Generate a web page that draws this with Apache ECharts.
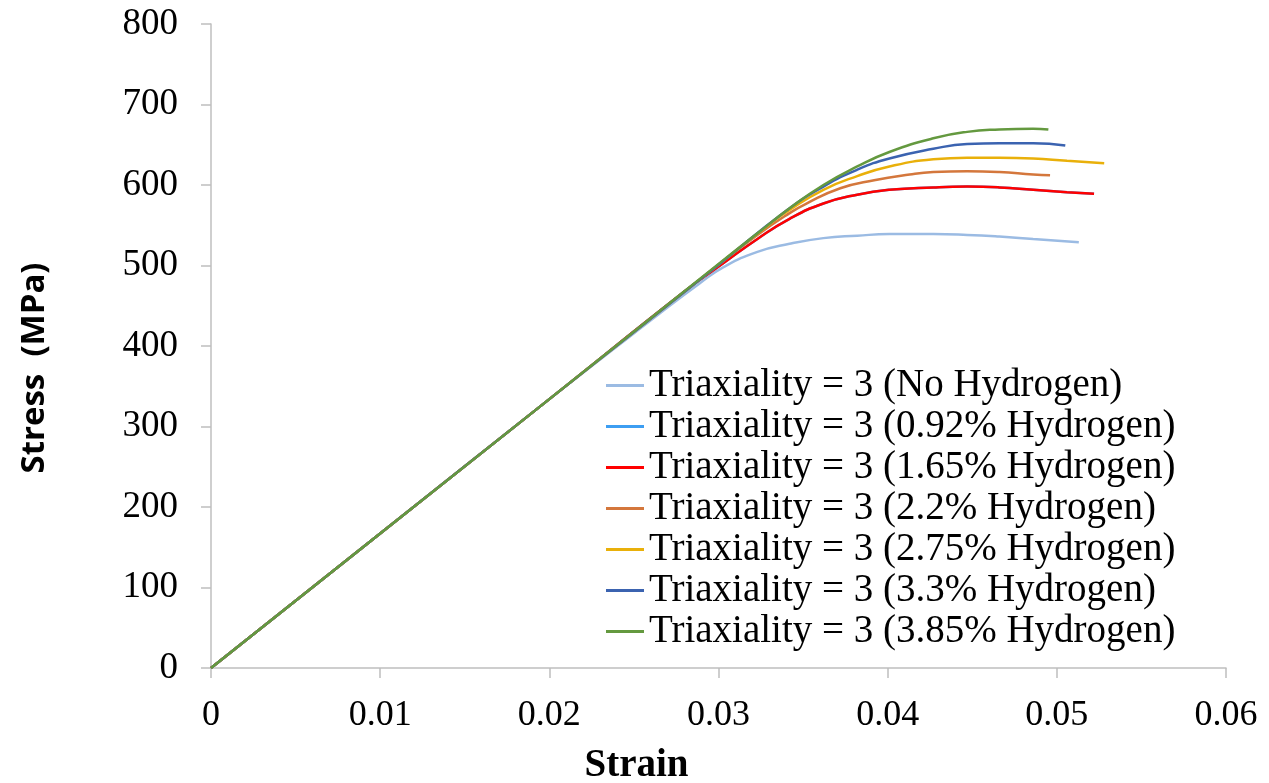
<!DOCTYPE html>
<html>
<head>
<meta charset="utf-8">
<style>
  html, body { margin: 0; padding: 0; background: #fff; }
  #main { width: 1269px; height: 783px; }
</style>
<script src="https://cdn.jsdelivr.net/npm/echarts@6/dist/echarts.min.js"></script>
</head>
<body>
<div id="main"></div>
<script>
// values
var names = [
  'Triaxiality = 3 (No Hydrogen)',
  'Triaxiality = 3 (0.92% Hydrogen)',
  'Triaxiality = 3 (1.65% Hydrogen)',
  'Triaxiality = 3 (2.2% Hydrogen)',
  'Triaxiality = 3 (2.75% Hydrogen)',
  'Triaxiality = 3 (3.3% Hydrogen)',
  'Triaxiality = 3 (3.85% Hydrogen)'
];
var colors = ['#9bbbe3', '#3d9ef2', '#ff0000', '#d4773c', '#e9b00a', '#3b63b0', '#64993f'];

var strainNoH = [0, 0.01, 0.02, 0.0265, 0.0289, 0.0303, 0.0323, 0.0342, 0.0362, 0.0382, 0.0401, 0.0427, 0.0447, 0.0466, 0.0486, 0.0513];
var stressNoH = [0, 167, 334, 440, 478, 498, 517, 527, 534, 537, 539, 539, 538, 536, 533, 529];

var strainH092 = [0, 0.01, 0.02, 0.028, 0.0303, 0.0323, 0.0342, 0.0362, 0.0382, 0.0401, 0.0427, 0.0447, 0.0466, 0.0486, 0.0506, 0.0522];
var stressH092 = [0, 167, 334, 468, 503, 533, 558, 577, 588, 594, 597, 598, 597, 594, 591, 589];

var strainH165 = [0, 0.01, 0.02, 0.028, 0.0303, 0.0323, 0.0342, 0.0362, 0.0382, 0.0401, 0.0427, 0.0447, 0.0466, 0.0486, 0.0506, 0.0522];
var stressH165 = [0, 167, 334, 468, 503, 533, 558, 577, 588, 594, 597, 598, 597, 594, 591, 589];

var strainH22 = [0, 0.01, 0.02, 0.03, 0.0323, 0.0342, 0.0352, 0.0372, 0.0392, 0.0413, 0.0427, 0.0447, 0.0466, 0.0486, 0.0496];
var stressH22 = [0, 167, 334, 501, 538, 565, 577, 596, 606, 613, 616, 617, 616, 613, 612];

var strainH275 = [0, 0.01, 0.02, 0.03, 0.033, 0.0342, 0.0362, 0.0382, 0.0401, 0.0427, 0.0447, 0.0466, 0.0486, 0.0506, 0.0528];
var stressH275 = [0, 167, 334, 501, 551, 569, 594, 611, 623, 632, 634, 634, 633, 630, 627];

var strainH33 = [0, 0.01, 0.02, 0.03, 0.034, 0.0362, 0.0382, 0.0401, 0.0427, 0.0447, 0.0466, 0.0486, 0.0505];
var stressH33 = [0, 167, 334, 501, 568, 598, 619, 633, 645, 651, 652, 652, 649];

var strainH385 = [0, 0.01, 0.02, 0.0303, 0.0323, 0.0342, 0.0362, 0.0382, 0.0401, 0.0427, 0.0447, 0.0466, 0.0486, 0.0495];
var stressH385 = [0, 167, 334, 507, 540, 571, 600, 623, 641, 658, 666, 669, 670, 669];

var strains = [strainNoH, strainH092, strainH165, strainH22, strainH275, strainH33, strainH385];
var stresses = [stressNoH, stressH092, stressH165, stressH22, stressH275, stressH33, stressH385];

var myChart = echarts.init(document.getElementById('main'));

var series = [];
for (var i = 0; i < names.length; i++) {
  var pts = [];
  for (var j = 0; j < strains[i].length; j++) {
    pts.push([strains[i][j], stresses[i][j]]);
  }
  series.push({
    name: names[i],
    type: 'line',
    smooth: true,
    showSymbol: false,
    animation: false,
    lineStyle: { width: 2.5, color: colors[i] },
    itemStyle: { color: colors[i] },
    data: pts
  });
}

var axisGrey = '#bfbfbf';

var option = {
  grid: { left: 211, right: 43, top: 24, bottom: 115, containLabel: false, outerBoundsMode: 'none' },
  legend: {
    orient: 'vertical',
    left: 601,
    top: 360,
    itemGap: 0,
    itemWidth: 38,
    itemHeight: 3,
    icon: 'rect',
    textStyle: { fontFamily: 'Liberation Serif', fontSize: 39, lineHeight: 41, color: '#000' },
    data: names
  },
  xAxis: {
    type: 'value',
    min: 0,
    max: 0.06,
    interval: 0.01,
    name: 'Strain',
    nameLocation: 'middle',
    nameGap: 78,
    nameTextStyle: {
      fontFamily: 'Liberation Serif', fontWeight: 'bold', fontSize: 39, color: '#000',
      padding: [0, 164, 0, 0]
    },
    axisLine: { show: true, lineStyle: { color: axisGrey, width: 1.5 } },
    axisTick: { show: true, length: 10, lineStyle: { color: axisGrey, width: 1.5 } },
    splitLine: { show: false },
    axisLabel: {
      margin: 30,
      fontFamily: 'Liberation Serif',
      fontSize: 36,
      color: '#000',
      formatter: function (v) { return String(+v.toFixed(2)); }
    }
  },
  yAxis: {
    type: 'value',
    min: 0,
    max: 800,
    interval: 100,
    name: 'Stress  (MPa)',
    nameLocation: 'middle',
    nameRotate: 90,
    nameGap: 160,
    nameTextStyle: {
      fontFamily: 'Open Sans', fontWeight: 'bold', fontSize: 33, color: '#000',
      padding: [0, 44, 0, 0]
    },
    axisLine: { show: true, lineStyle: { color: axisGrey, width: 1.5 } },
    axisTick: { show: true, length: 10, lineStyle: { color: axisGrey, width: 1.5 } },
    splitLine: { show: false },
    axisLabel: { margin: 33, fontFamily: 'Liberation Serif', fontSize: 37, color: '#000' }
  },
  series: series
};
myChart.setOption(option);
window.onresize = function () {
  myChart.resize();
};
</script>
</body>
</html>
